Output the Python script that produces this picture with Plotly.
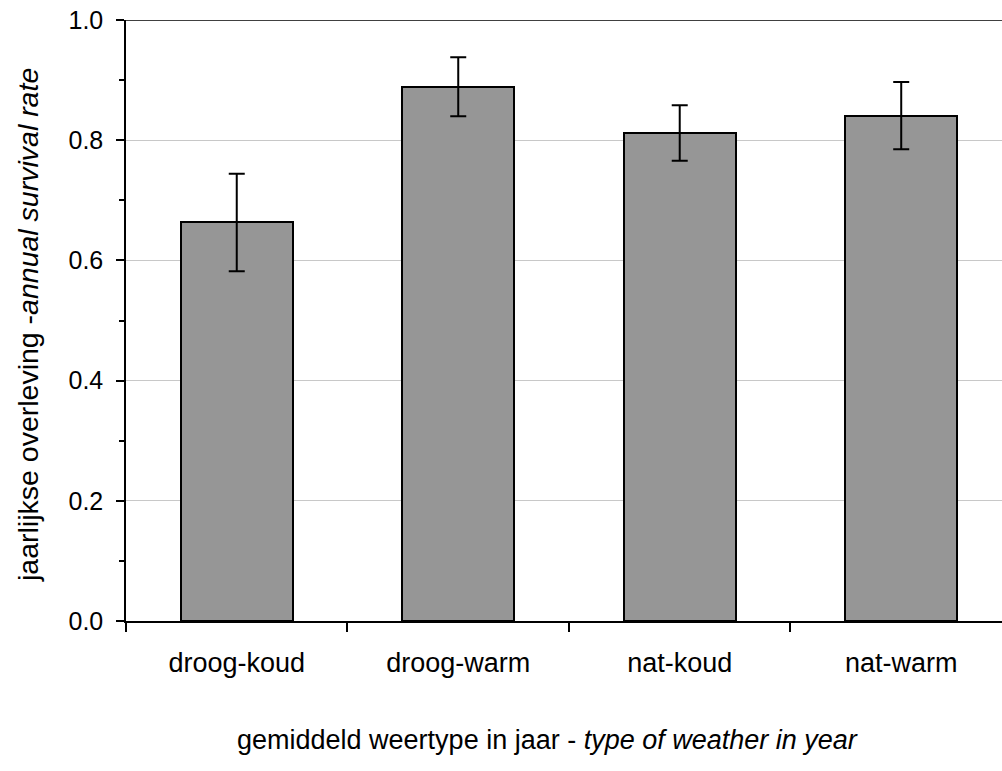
import plotly.graph_objects as go

# Annual survival rate per weather type, with error margins
categories = ["droog-koud", "droog-warm", "nat-koud", "nat-warm"]
survival = [0.664, 0.889, 0.812, 0.841]
err_plus = [0.080, 0.049, 0.046, 0.056]
err_minus = [0.082, 0.049, 0.046, 0.056]

y_ticks = [0.0, 0.2, 0.4, 0.6, 0.8, 1.0]
y_tick_text = ["0.0", "0.2", "0.4", "0.6", "0.8", "1.0"]

FONT = "Liberation Sans, Arial, sans-serif"
FS = 27

fig = go.Figure()
fig.add_trace(go.Bar(
    x=categories,
    y=survival,
    width=0.506,
    marker=dict(color="#969696", line=dict(color="#000000", width=2)),
    error_y=dict(
        type="data", symmetric=False,
        array=err_plus, arrayminus=err_minus,
        color="#000000", thickness=2, width=8,
    ),
    showlegend=False,
))

fig.update_layout(
    width=1002, height=771,
    margin=dict(l=126, r=0, t=20, b=150),
    paper_bgcolor="white", plot_bgcolor="white",
    font=dict(family=FONT, size=FS, color="#000000"),
    bargap=0,
    xaxis=dict(
        type="category",
        range=[-0.5, 3.455],
        tickson="boundaries",
        ticks="outside", ticklen=9, tickwidth=1.5, tickcolor="#000000",
        showline=True, linecolor="#000000", linewidth=1.5,
        showgrid=False, zeroline=False,
        ticklabelstandoff=17,
        tickfont=dict(size=FS),
    ),
    yaxis=dict(
        range=[0, 1.0],
        tickvals=y_ticks, ticktext=y_tick_text,
        ticks="outside", ticklen=8, tickwidth=1.5, tickcolor="#000000",
        minor=dict(dtick=0.1, ticks="outside", ticklen=5, tickwidth=1.5,
                   tickcolor="#000000", showgrid=False),
        showline=True, linecolor="#000000", linewidth=1.5,
        showgrid=True, gridcolor="#c8c8c8", gridwidth=1,
        zeroline=False,
        ticklabelstandoff=8,
        tickfont=dict(size=25),
    ),
    shapes=[dict(type="line", xref="paper", yref="y", x0=0, x1=1, y0=1.0, y1=1.0,
                 line=dict(color="#000000", width=1.5))],
    annotations=[
        dict(text="gemiddeld weertype in jaar - <i>type of weather in year</i>",
             xref="paper", yref="paper", x=(547 - 126) / 876, y=-(740 - 621) / 601,
             xanchor="center", yanchor="middle", showarrow=False,
             font=dict(size=FS)),
        dict(text="jaarlijkse overleving -<i>annual survival rate</i>",
             xref="paper", yref="paper", x=-(126 - 28) / 876, y=(621 - 325) / 601,
             xanchor="center", yanchor="middle", showarrow=False, textangle=-90,
             font=dict(size=28.5)),
    ],
)

fig.write_html("out.html")
